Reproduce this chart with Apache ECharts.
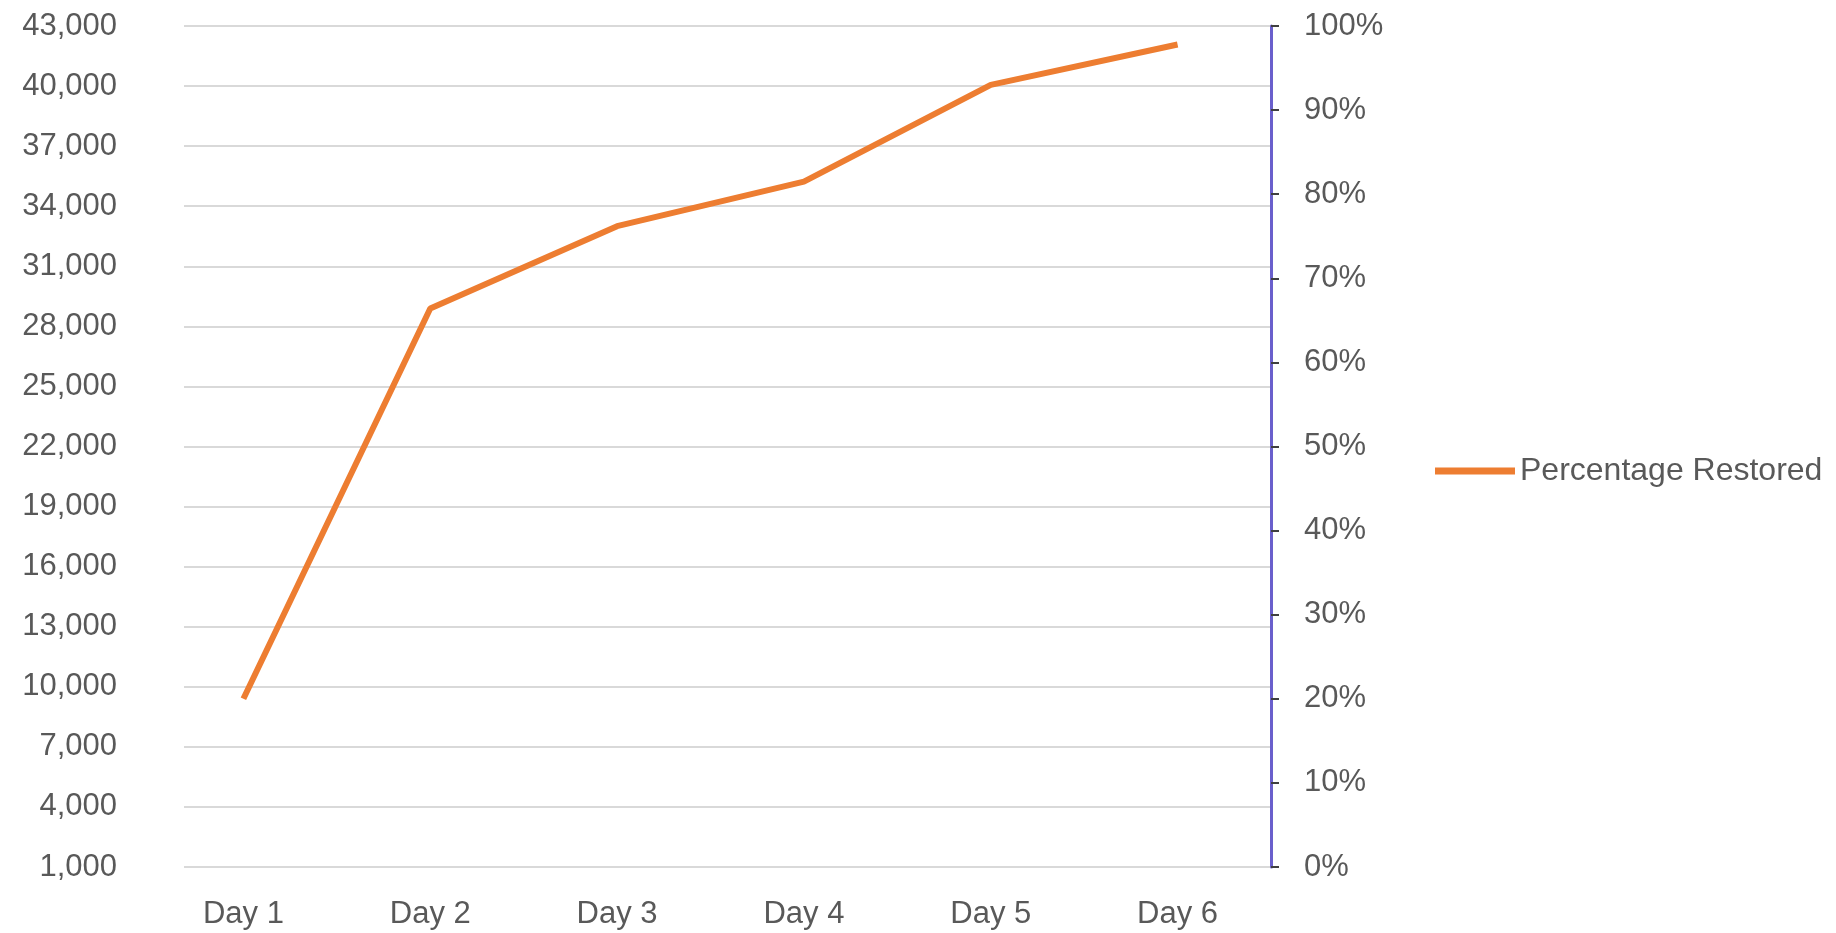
<!DOCTYPE html>
<html>
<head>
<meta charset="utf-8">
<script src="https://cdn.jsdelivr.net/npm/echarts@6/dist/echarts.min.js"></script>
<style>
  html, body { margin: 0; padding: 0; background: #fff; }
  #chart { width: 1836px; height: 933px; }
</style>
</head>
<body>
<div id="chart"></div>
<script>
  // chart data
  var days = ["Day 1", "Day 2", "Day 3", "Day 4", "Day 5", "Day 6"];
  var percentRestored = [20.0, 66.4, 76.2, 81.5, 93.0, 97.8];
  var leftTicks = [1000, 4000, 7000, 10000, 13000, 16000, 19000, 22000, 25000, 28000, 31000, 34000, 37000, 40000, 43000];
  var seriesName = "Percentage Restored";

  var textColor = "#595959";
  var fontFamily = "Liberation Sans, Arial, sans-serif";

  var chart = echarts.init(document.getElementById("chart"));
  var option = {
    backgroundColor: "#fff",
    animation: false,
    legend: {
      data: [seriesName],
      left: 1430,
      top: 450,
      icon: "rect",
      itemWidth: 80,
      itemHeight: 7,
      itemGap: 4,
      textStyle: { color: textColor, fontSize: 32, fontFamily: fontFamily }
    },
    grid: [
      // line, day axis and % axis
      { left: 150, right: 565, top: 26, bottom: 66 },
      // left value axis + gridlines
      { left: 184, right: 565, top: 26, bottom: 66 }
    ],
    xAxis: [
      {
        type: "category",
        gridIndex: 0,
        data: days,
        boundaryGap: true,
        axisLine: { show: false },
        axisTick: { show: false },
        axisLabel: { color: textColor, fontSize: 31, fontFamily: fontFamily, margin: 32 }
      },
      {
        type: "value",
        gridIndex: 1,
        min: 0,
        max: 1,
        show: false
      }
    ],
    yAxis: [
      {
        type: "value",
        gridIndex: 1,
        position: "left",
        min: 0,
        max: leftTicks.length - 1,
        interval: 1,
        axisLine: { show: false },
        axisTick: { show: false },
        axisLabel: {
          color: textColor,
          fontSize: 31,
          fontFamily: fontFamily,
          margin: 67,
          formatter: function (v) {
            return leftTicks[v] !== undefined ? leftTicks[v].toLocaleString("en-US") : "";
          }
        },
        splitLine: { lineStyle: { color: "#d9d9d9", width: 2 } }
      },
      {
        type: "value",
        gridIndex: 0,
        position: "right",
        min: 0,
        max: 100,
        interval: 10,
        axisLine: { show: true, lineStyle: { color: "#6a5fcc", width: 3 } },
        axisTick: { show: true, length: 8, lineStyle: { color: "#404040", width: 2 } },
        axisLabel: {
          color: textColor,
          fontSize: 31,
          fontFamily: fontFamily,
          margin: 33,
          formatter: "{value}%"
        },
        splitLine: { show: false }
      }
    ],
    series: [
      {
        name: seriesName,
        type: "line",
        xAxisIndex: 0,
        yAxisIndex: 1,
        data: percentRestored,
        symbol: "none",
        itemStyle: { color: "#ED7D31" },
        lineStyle: { color: "#ED7D31", width: 6 }
      }
    ]
  };
  chart.setOption(option);
</script>
</body>
</html>
